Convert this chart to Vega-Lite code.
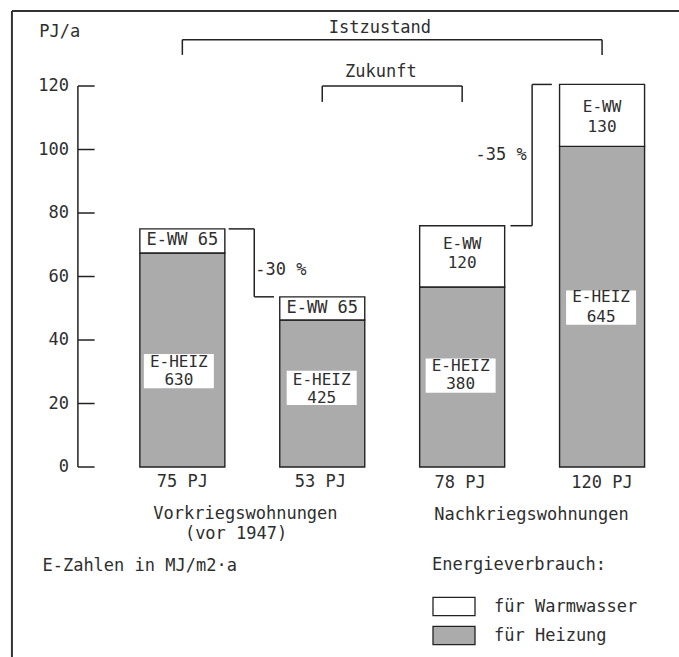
{
  "$schema": "https://vega.github.io/schema/vega-lite/v6.json",
  "width": 679,
  "height": 657,
  "autosize": {"type": "none"},
  "padding": 0,
  "background": "white",
  "config": {
    "view": {"stroke": null},
    "text": {"font": "DejaVu Sans Mono", "fontSize": 17, "color": "#2e2e2e"}
  },
  "datasets": {
    "segs": [
      {"u": 1, "v": 0, "v2": 67.4, "typ": "für Heizung"},
      {"u": 1, "v": 67.4, "v2": 75, "typ": "für Warmwasser"},
      {"u": 2, "v": 0, "v2": 46.3, "typ": "für Heizung"},
      {"u": 2, "v": 46.3, "v2": 53.6, "typ": "für Warmwasser"},
      {"u": 3, "v": 0, "v2": 56.7, "typ": "für Heizung"},
      {"u": 3, "v": 56.7, "v2": 76, "typ": "für Warmwasser"},
      {"u": 4, "v": 0, "v2": 101, "typ": "für Heizung"},
      {"u": 4, "v": 101, "v2": 120.5, "typ": "für Warmwasser"}
    ],
    "frame": [
      {"u": -0.218, "u2": 4.6, "v": 143.6, "v2": 143.6},
      {"u": -0.218, "u2": -0.218, "v": 143.6, "v2": -62}
    ],
    "lines": [
      {"u": 0.2535, "u2": 0.2535, "v": 0, "v2": 120},
      {"u": 1, "u2": 4, "v": 134.6, "v2": 134.6},
      {"u": 1, "u2": 1, "v": 134.6, "v2": 129.8},
      {"u": 4, "u2": 4, "v": 134.6, "v2": 129.8},
      {"u": 2, "u2": 3, "v": 120, "v2": 120},
      {"u": 2, "u2": 2, "v": 120, "v2": 115},
      {"u": 3, "u2": 3, "v": 120, "v2": 115},
      {"u": 1.331, "u2": 1.514, "v": 75, "v2": 75},
      {"u": 1.514, "u2": 1.514, "v": 75, "v2": 53.6},
      {"u": 1.514, "u2": 1.655, "v": 53.6, "v2": 53.6},
      {"u": 3.345, "u2": 3.5, "v": 76, "v2": 76},
      {"u": 3.5, "u2": 3.5, "v": 76, "v2": 120.5},
      {"u": 3.5, "u2": 3.641, "v": 120.5, "v2": 120.5}
    ],
    "yticks": [
      {"u": 0.2535, "u2": 0.373, "ul": 0.19, "v": 0},
      {"u": 0.2535, "u2": 0.373, "ul": 0.19, "v": 20},
      {"u": 0.2535, "u2": 0.373, "ul": 0.19, "v": 40},
      {"u": 0.2535, "u2": 0.373, "ul": 0.19, "v": 60},
      {"u": 0.2535, "u2": 0.373, "ul": 0.19, "v": 80},
      {"u": 0.2535, "u2": 0.373, "ul": 0.19, "v": 100},
      {"u": 0.2535, "u2": 0.373, "ul": 0.19, "v": 120}
    ],
    "boxes": [
      {"u": 0.975, "v": 30.2},
      {"u": 1.996, "v": 24.9},
      {"u": 2.989, "v": 28.8},
      {"u": 3.993, "v": 50.2}
    ],
    "texts": [
      {"u": 0.123, "v": 137.0, "t": "PJ/a"},
      {"u": 2.412, "v": 138.3, "t": "Istzustand"},
      {"u": 2.419, "v": 124.4, "t": "Zukunft"},
      {"u": 1.704, "v": 62.1, "t": "-30 %"},
      {"u": 3.278, "v": 98.3, "t": "-35 %"},
      {"u": 1.0, "v": -4.7, "t": "75 PJ"},
      {"u": 1.986, "v": -4.7, "t": "53 PJ"},
      {"u": 2.986, "v": -5.0, "t": "78 PJ"},
      {"u": 4.0, "v": -5.0, "t": "120 PJ"},
      {"u": 1.0, "v": 71.5, "t": "E-WW 65"},
      {"u": 2.0, "v": 50.1, "t": "E-WW 65"},
      {"u": 1.451, "v": -14.9, "t": "Vorkriegswohnungen"},
      {"u": 1.384, "v": -21.0, "t": "(vor 1947)"},
      {"u": 3.496, "v": -15.1, "t": "Nachkriegswohnungen"}
    ],
    "inner": [
      {"u": 3.0, "v": 70.2, "t": "E-WW"},
      {"u": 3.0, "v": 64.4, "t": "120"},
      {"u": 4.0, "v": 113.4, "t": "E-WW"},
      {"u": 4.0, "v": 107.0, "t": "130"},
      {"u": 0.975, "v": 33.0, "t": "E-HEIZ"},
      {"u": 0.975, "v": 27.4, "t": "630"},
      {"u": 1.996, "v": 27.4, "t": "E-HEIZ"},
      {"u": 1.996, "v": 21.7, "t": "425"},
      {"u": 2.989, "v": 31.7, "t": "E-HEIZ"},
      {"u": 2.989, "v": 26.1, "t": "380"},
      {"u": 3.993, "v": 53.4, "t": "E-HEIZ"},
      {"u": 3.993, "v": 47.2, "t": "645"}
    ],
    "ltexts": [
      {"u": 0.0, "v": -31.2, "t": "E-Zahlen in MJ/m2·a"}
    ]
  },
  "encoding": {
    "x": {"field": "u", "type": "quantitative", "scale": {"domain": [-0.2676, 4.5141], "nice": false, "zero": false}, "axis": null},
    "y": {"field": "v", "type": "quantitative", "scale": {"domain": [-59.84, 147.09], "nice": false, "zero": false}, "axis": null}
  },
  "layer": [
    {
      "data": {"name": "segs"},
      "mark": {"type": "bar", "width": 85, "stroke": "#222", "strokeWidth": 1.4},
      "encoding": {
        "y2": {"field": "v2"},
        "fill": {
          "field": "typ",
          "type": "nominal",
          "scale": {"domain": ["für Warmwasser", "für Heizung"], "range": ["#ffffff", "#ababab"]},
          "legend": {
            "orient": "none",
            "legendX": 432,
            "legendY": 557,
            "title": "Energieverbrauch:",
            "titleFont": "DejaVu Sans Mono",
            "titleFontSize": 17,
            "titleFontWeight": "normal",
            "titleColor": "#2e2e2e",
            "titlePadding": 21,
            "labelFont": "DejaVu Sans Mono",
            "labelFontSize": 17,
            "labelColor": "#2e2e2e",
            "labelOffset": 28.5,
            "symbolType": "M-2,-0.86H2V0.86H-2Z",
            "symbolSize": 441,
            "symbolOffset": 10.5,
            "symbolStrokeColor": "#222",
            "symbolStrokeWidth": 1.3,
            "rowPadding": 4,
            "padding": 0
          }
        }
      }
    },
    {
      "data": {"name": "frame"},
      "mark": {"type": "rule", "stroke": "#333", "strokeWidth": 2},
      "encoding": {"x2": {"field": "u2"}, "y2": {"field": "v2"}}
    },
    {
      "data": {"name": "lines"},
      "mark": {"type": "rule", "stroke": "#222", "strokeWidth": 1.5},
      "encoding": {"x2": {"field": "u2"}, "y2": {"field": "v2"}}
    },
    {
      "data": {"name": "yticks"},
      "mark": {"type": "rule", "stroke": "#222", "strokeWidth": 1.5},
      "encoding": {"x2": {"field": "u2"}}
    },
    {
      "data": {"name": "yticks"},
      "mark": {"type": "text", "align": "right", "baseline": "middle"},
      "encoding": {"x": {"field": "ul", "type": "quantitative"}, "text": {"field": "v", "type": "quantitative"}}
    },
    {
      "data": {"name": "boxes"},
      "mark": {"type": "point", "shape": "M-1,-0.49H1V0.49H-1Z", "size": 4900, "filled": true, "fill": "white", "opacity": 1, "strokeWidth": 0},
      "encoding": {}
    },
    {
      "data": {"name": "texts"},
      "mark": {"type": "text", "align": "center", "baseline": "middle"},
      "encoding": {"text": {"field": "t"}}
    },
    {
      "data": {"name": "inner"},
      "mark": {"type": "text", "align": "center", "baseline": "middle", "fontSize": 16},
      "encoding": {"text": {"field": "t"}}
    },
    {
      "data": {"name": "ltexts"},
      "mark": {"type": "text", "align": "left", "baseline": "middle"},
      "encoding": {"text": {"field": "t"}}
    }
  ]
}
